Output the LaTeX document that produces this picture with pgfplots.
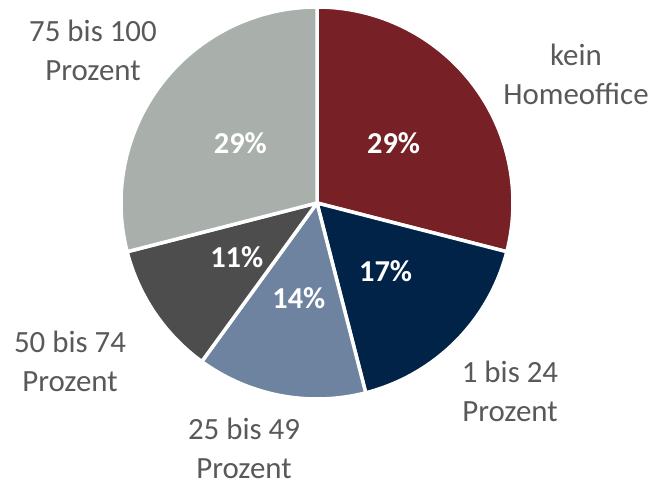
\documentclass[border=0pt]{standalone}
\usepackage{fontspec}
\setmainfont{Carlito}
\usepackage{pgfplots}
\usepackage{pgfplotstable}
\pgfplotsset{compat=1.18}

\definecolor{cRed}{HTML}{772025}
\definecolor{cNavy}{HTML}{002347}
\definecolor{cSlate}{HTML}{6E83A0}
\definecolor{cDark}{HTML}{4D4D4D}
\definecolor{cLight}{HTML}{A9AFAB}
\definecolor{txt}{HTML}{595959}

% share in percent, colour, label position (px, y up)
\pgfplotstableread[col sep=comma]{
pct,col,lx,ly,line1,line2
29,cRed,576,411,kein,Homeoffice
17,cNavy,510,94,1 bis 24,Prozent
14,cSlate,244,37,25 bis 49,Prozent
11,cDark,70,124,50 bis 74,Prozent
29,cLight,93,435,75 bis 100,Prozent
}\piedata

\tikzset{
  pct/.style={white, font=\fontsize{30.5}{36}\selectfont\bfseries},
  outer/.style={txt, align=center, inner sep=0pt, font=\fontsize{31}{39}\selectfont},
}

\begin{document}
\begin{tikzpicture}
\begin{axis}[
    x=1bp, y=1bp,
    xmin=0, xmax=655, ymin=0, ymax=485,
    hide axis, clip=false,
]
\def\startang{90}
\pgfplotsforeachungrouped \i in {0,...,4}{
  \pgfplotstablegetelem{\i}{pct}\of\piedata \let\p\pgfplotsretval
  \pgfplotstablegetelem{\i}{col}\of\piedata \let\c\pgfplotsretval
  \pgfplotstablegetelem{\i}{lx}\of\piedata \let\lx\pgfplotsretval
  \pgfplotstablegetelem{\i}{ly}\of\piedata \let\ly\pgfplotsretval
  \pgfplotstablegetelem{\i}{line1}\of\piedata \let\la\pgfplotsretval
  \pgfplotstablegetelem{\i}{line2}\of\piedata \let\lb\pgfplotsretval
  \pgfmathsetmacro\endang{\startang-3.6*\p}
  \pgfmathsetmacro\midang{(\startang+\endang)/2}
  \edef\temp{%
    \noexpand\fill[\c, draw=white, line width=3.5bp, line join=round]
      (axis cs:317,282) -- ([shift={(\startang:196bp)}]axis cs:317,282)
      arc[start angle=\startang, end angle=\endang, radius=196bp] -- cycle;
    \noexpand\node[pct] at ([shift={(\midang:97bp)}]axis cs:317,282) {\p\noexpand\%};
    \noexpand\node[outer] at (axis cs:\lx,\ly) {\la\noexpand\\\lb};
  }
  \temp
  \let\startang\endang
}
\end{axis}
\pgfresetboundingbox
\path (0,0) rectangle (655bp,485bp);
\end{tikzpicture}
\end{document}
